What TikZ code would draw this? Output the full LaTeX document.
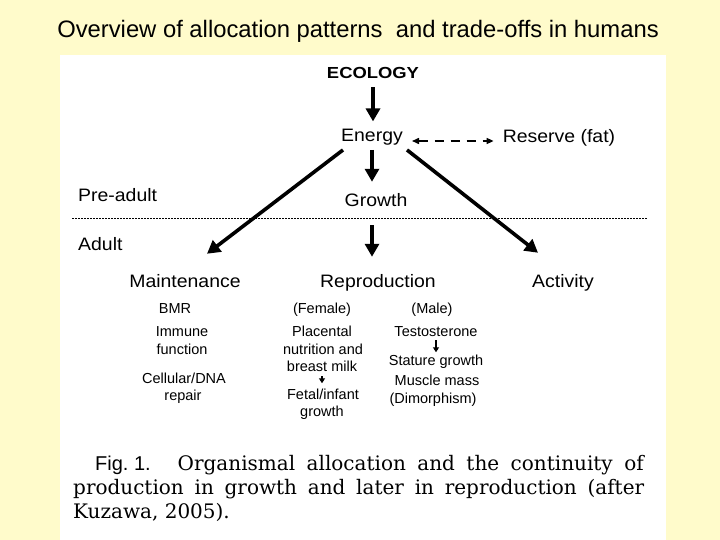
\documentclass[tikz,border=0pt]{standalone}
\usepackage{fontspec}
\usetikzlibrary{arrows.meta,calc}
\newfontfamily\wsans[FakeStretch=1.08]{Liberation Sans}
\newfontfamily\wbsans[FakeStretch=1.15]{Liberation Sans Bold}
\newfontfamily\nsans{Liberation Sans}
\newfontfamily\capserif{DejaVu Serif}
\definecolor{bgyellow}{HTML}{FFFBCB}
\begin{document}
\begin{tikzpicture}[x=1pt,y=-1pt,
  lab/.style={inner sep=0pt,anchor=base,font=\wsans\fontsize{18}{20}\selectfont},
  sml/.style={inner sep=0pt,anchor=base,font=\nsans\fontsize{14.5}{17}\selectfont},
  capt/.style={inner sep=0pt,anchor=base west,font=\capserif\fontsize{20}{24}\selectfont},
  big/.style={line width=3.6pt,-{Triangle[length=13pt,width=14pt]}},
  thin/.style={line width=1.2pt,-{Triangle[length=5pt,width=6pt]}},
  dsh/.style={line width=1.5pt,dash pattern=on 9pt off 7pt,
    {Triangle[length=7pt,width=6pt]}-{Triangle[length=7pt,width=6pt]}},
  dots/.style={line width=0.8pt,dash pattern=on 1.6pt off 1.4pt}]
\useasboundingbox (0,0) rectangle (720,540);
\fill[bgyellow] (0,0) rectangle (720,540);
\fill[white] (60,55) rectangle (666,540);
% title
\node[inner sep=0pt,anchor=base,font=\nsans\fontsize{23.8}{26}\selectfont] (title) at (358,38)
  {Overview of allocation patterns\ \ and trade-offs in humans};
% main labels
\node[inner sep=0pt,anchor=base,font=\wbsans\fontsize{16}{18}\selectfont] (eco) at (373,79) {ECOLOGY};
\node[lab] (en) at (372,142) {Energy};
\node[lab] (res) at (559,143) {Reserve (fat)};
\node[lab] (gro) at (376,207) {Growth};
\node[lab,anchor=base west] (pre) at (78,202) {Pre-adult};
\node[lab,anchor=base west] (adu) at (78,251) {Adult};
\node[lab] (mai) at (185,287) {Maintenance};
\node[lab] (rep) at (378,287) {Reproduction};
\node[lab] (act) at (563,287) {Activity};
% maintenance details
\node[sml] (bmr) at (175,313) {BMR};
\node[sml] (imm1) at (182,336) {Immune};
\node[sml] (imm2) at (182,354) {function};
\node[sml] (cel1) at (184,383) {Cellular/DNA};
\node[sml] (cel2) at (183,400) {repair};
% female
\node[sml] (fem) at (322,313) {(Female)};
\node[sml] (pla1) at (322,336) {Placental};
\node[sml] (pla2) at (323,354) {nutrition and};
\node[sml] (pla3) at (322,371) {breast milk};
\node[sml] (fet1) at (323,399) {Fetal/infant};
\node[sml] (fet2) at (322,416) {growth};
% male
\node[sml] (male) at (432,313) {(Male)};
\node[sml] (tes) at (436,336) {Testosterone};
\node[sml] (sta) at (436,365) {Stature growth};
\node[sml] (mus) at (437,385) {Muscle mass};
\node[sml] (dim) at (433,403) {(Dimorphism)};
% dotted separator
\coordinate (dl) at (72,218);
\coordinate (dr) at (647,218);
\draw[dots] (dl) -- (dr);
% arrows
\draw[big,shorten <=8pt,shorten >=8pt] (eco.south) -- (eco.south |- en.north);
\draw[big,shorten <=4pt,shorten >=12pt] (en.south) -- (en.south |- gro.north);
\draw[big,shorten <=18pt,shorten >=17pt] (gro.south -| en.south) -- (rep.north -| en.south);
\draw[big] ($(en.south west)+(2,4)$) -- ($(mai.north)+(22,-20)$);
\draw[big] ($(en.south east)+(4,4)$) -- ($(act.north)+(-25,-21)$);
\draw[dsh] ($(en.base east)+(9,-1)$) -- ($(res.base west)+(-9,-2)$);
\draw[thin,shorten <=4pt,shorten >=2pt] (tes.south) -- (tes.south |- sta.north);
\draw[thin,shorten <=5pt,shorten >=5pt] (pla3.south) -- (pla3.south |- fet1.north);
% caption
\node[capt] (cap1) at (95,470)
  {\mbox{\nsans\fontsize{20}{24}\selectfont Fig.\kern5.5pt1.}\kern27pt\makebox[466pt][s]{Organismal allocation and the continuity of}};
\node[capt] (cap2) at (73,494)
  {\makebox[571pt][s]{production in growth and later in reproduction (after}};
\node[capt] (cap3) at (73,518)
  {Kuzawa, 2005).};
\end{tikzpicture}
\end{document}
